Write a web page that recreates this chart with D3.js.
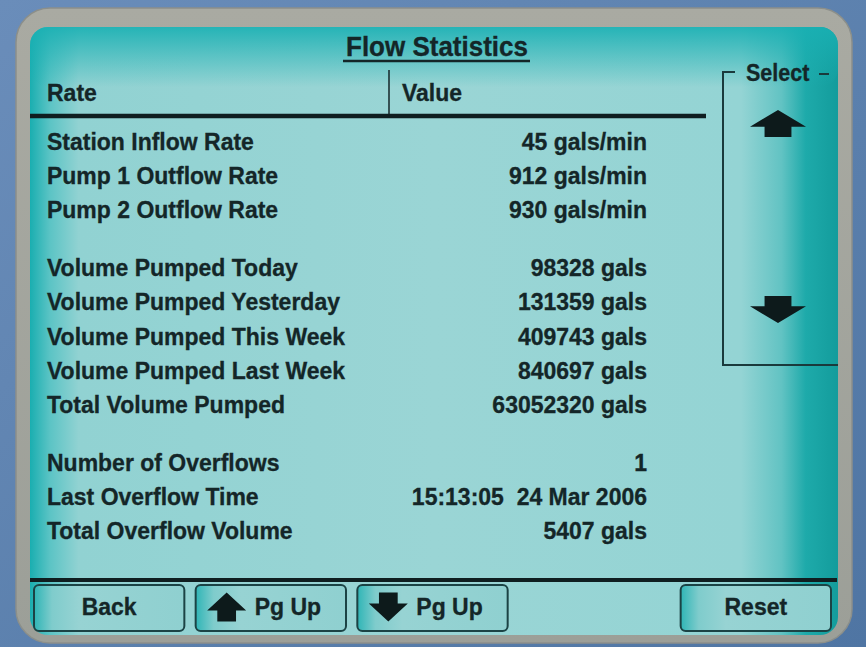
<!DOCTYPE html>
<html>
<head>
<meta charset="utf-8">
<script src="https://cdn.jsdelivr.net/npm/d3@7"></script>
<style>
  body { margin: 0; background: #5a7fac; }
  svg { display: block; }
  text { font-family: "Liberation Sans", Arial, sans-serif; font-weight: bold; fill: #142628;
         stroke: #142628; stroke-width: 0.3; }
</style>
</head>
<body>
<div id="vis"></div>
<script>
const WIDTH = 866;
const HEIGHT = 647;

// data
const title = 'Flow Statistics';
const headers = ['Rate', 'Value'];
const rateLabels = ['Station Inflow Rate', 'Pump 1 Outflow Rate', 'Pump 2 Outflow Rate'];
const rateValues = ['45 gals/min', '912 gals/min', '930 gals/min'];
const volumeLabels = ['Volume Pumped Today', 'Volume Pumped Yesterday', 'Volume Pumped This Week',
                      'Volume Pumped Last Week', 'Total Volume Pumped'];
const volumeValues = ['98328 gals', '131359 gals', '409743 gals', '840697 gals', '63052320 gals'];
const overflowLabels = ['Number of Overflows', 'Last Overflow Time', 'Total Overflow Volume'];
const overflowValues = ['1', '15:13:05  24 Mar 2006', '5407 gals'];
const buttonLabels = ['Back', 'Pg Up', 'Pg Up', '', 'Reset'];
const buttonArrows = ['', 'up', 'down', '', ''];

const GROUP_GAP = 0.7;
const STRETCH = 1.08; // LCD font is a bit taller than Liberation

const svg = d3.select('#vis').append('svg')
    .attr('width', WIDTH).attr('height', HEIGHT);

const defs = svg.append('defs');

// background
const bg = defs.append('linearGradient').attr('id', 'bg').attr('x1', 0).attr('y1', 0).attr('x2', 1).attr('y2', 1);
bg.append('stop').attr('offset', '0%').attr('stop-color', '#6a8dba');
bg.append('stop').attr('offset', '60%').attr('stop-color', '#5a7fac');
bg.append('stop').attr('offset', '100%').attr('stop-color', '#4f75a3');
svg.append('rect').attr('width', WIDTH).attr('height', HEIGHT).attr('fill', 'url(#bg)');

// bezel
const bez = defs.append('linearGradient').attr('id', 'bez').attr('x1', 0).attr('y1', 0).attr('x2', 0).attr('y2', 1);
bez.append('stop').attr('offset', '0%').attr('stop-color', '#a9aaa2');
bez.append('stop').attr('offset', '100%').attr('stop-color', '#9c9f98');
svg.append('rect').attr('x', 16).attr('y', 8).attr('width', 836).attr('height', 635)
    .attr('rx', 34).attr('fill', 'url(#bez)').attr('stroke', '#8c8f8a').attr('stroke-width', 1.5);

// screen
const scr = defs.append('linearGradient').attr('id', 'scr').attr('x1', 0).attr('y1', 0).attr('x2', 1).attr('y2', 0);
[['0%', '#1aaeb0'], ['2.5%', '#5cc4c5'], ['6%', '#91d2d2'], ['50%', '#9ad5d5'], ['88%', '#94d4d4'],
 ['93%', '#62c3c3'], ['96%', '#1eaaaa'], ['100%', '#139c9c']]
    .forEach(s => scr.append('stop').attr('offset', s[0]).attr('stop-color', s[1]));
svg.append('rect').attr('x', 30).attr('y', 27).attr('width', 808).attr('height', 608)
    .attr('rx', 18).attr('fill', 'url(#scr)');

const topShade = defs.append('linearGradient').attr('id', 'topShade').attr('x1', 0).attr('y1', 0).attr('x2', 0).attr('y2', 1);
topShade.append('stop').attr('offset', '0%').attr('stop-color', '#19b0b3').attr('stop-opacity', 0.9);
topShade.append('stop').attr('offset', '100%').attr('stop-color', '#19b0b3').attr('stop-opacity', 0);
svg.append('rect').attr('x', 30).attr('y', 27).attr('width', 808).attr('height', 60)
    .attr('rx', 18).attr('fill', 'url(#topShade)');

// text placed at (x, y) with a slight vertical stretch around the baseline
const place = (x, y) => `translate(${x},${y}) scale(1,${STRETCH})`;

// title
svg.append('text').attr('transform', place(437, 56)).attr('text-anchor', 'middle')
    .attr('font-size', 26).text(title);
svg.append('line').attr('x1', 343).attr('x2', 530).attr('y1', 61).attr('y2', 61)
    .attr('stroke', '#142628').attr('stroke-width', 2.5);

// table header
const colX = d3.scaleOrdinal().domain(headers).range([47, 402]);
svg.selectAll('text.hdr').data(headers).join('text').attr('class', 'hdr')
    .attr('transform', d => place(colX(d), 101)).attr('font-size', 23).text(d => d);
svg.append('line').attr('x1', 389).attr('x2', 389).attr('y1', 70).attr('y2', 115)
    .attr('stroke', '#142628').attr('stroke-width', 1.5);
svg.append('line').attr('x1', 30).attr('x2', 706).attr('y1', 116).attr('y2', 116)
    .attr('stroke', '#0f1e20').attr('stroke-width', 4.5);

// rows, grouped with a gap between groups
const groups = [[rateLabels, rateValues], [volumeLabels, volumeValues], [overflowLabels, overflowValues]];
const rows = [];
let slot = 0;
groups.forEach(g => {
    g[0].forEach((label, i) => rows.push({ label: label, value: g[1][i], slot: slot++ }));
    slot += GROUP_GAP;
});
const lastSlot = rows[rows.length - 1].slot;
const y = d3.scaleLinear().domain([0, lastSlot]).range([150, 539]);

const rowG = svg.append('g').attr('id', 'rows');
rowG.selectAll('text.lbl').data(rows).join('text').attr('class', 'lbl')
    .attr('transform', d => place(47, y(d.slot))).attr('font-size', 23).text(d => d.label);
rowG.selectAll('text.val').data(rows).join('text').attr('class', 'val')
    .attr('transform', d => place(647, y(d.slot))).attr('font-size', 23)
    .attr('text-anchor', 'end').style('white-space', 'pre').text(d => d.value);

// select bracket
const sel = svg.append('g').attr('id', 'select');
sel.append('path').attr('d', 'M735,72 H723 V365 H838')
    .attr('fill', 'none').attr('stroke', '#1a3a3c').attr('stroke-width', 2);
sel.append('text').attr('transform', place(746, 81)).attr('font-size', 21.5).text('Select');
sel.append('line').attr('x1', 819).attr('x2', 829).attr('y1', 74).attr('y2', 74)
    .attr('stroke', '#1a3a3c').attr('stroke-width', 2);

function arrowPath(cx, cy, w, h, dir) {
    // fat arrow: triangle head + rectangular stem
    const hw = w / 2, sw = w * 0.24, headH = h * 0.62;
    const s = dir === 'up' ? 1 : -1;
    const tip = cy - s * h / 2, base = tip + s * headH, end = cy + s * h / 2;
    return `M${cx},${tip} L${cx + hw},${base} L${cx + sw},${base} L${cx + sw},${end} ` +
           `L${cx - sw},${end} L${cx - sw},${base} L${cx - hw},${base} Z`;
}
sel.append('path').attr('d', arrowPath(778, 123.5, 56, 27, 'up')).attr('fill', '#0d1a1b');
sel.append('path').attr('d', arrowPath(778, 309.5, 56, 27, 'down')).attr('fill', '#0d1a1b');

// bottom bar + buttons
svg.append('line').attr('x1', 30).attr('x2', 837).attr('y1', 580).attr('y2', 580)
    .attr('stroke', '#0f1e20').attr('stroke-width', 4);

const btnFill = defs.append('linearGradient').attr('id', 'btn').attr('x1', 0).attr('y1', 0).attr('x2', 1).attr('y2', 0);
[['0%', '#2fb5b6'], ['12%', '#7fcccc'], ['30%', '#97d3d3'], ['100%', '#8fd0d0']]
    .forEach(s => btnFill.append('stop').attr('offset', s[0]).attr('stop-color', s[1]));

const bx = d3.scaleBand().domain(d3.range(buttonLabels.length)).range([34, 831]).paddingInner(0.07);
const buttons = buttonLabels.map((label, i) => ({ i: i, label: label, arrow: buttonArrows[i] }))
    .filter(d => d.label !== '');

const btnG = svg.append('g').attr('id', 'buttons').selectAll('g').data(buttons).join('g')
    .attr('transform', d => `translate(${bx(d.i)}, 585)`);
btnG.append('rect').attr('width', bx.bandwidth()).attr('height', 46).attr('rx', 5)
    .attr('fill', 'url(#btn)').attr('stroke', '#1b4345').attr('stroke-width', 2);
btnG.filter(d => d.arrow === '').append('text')
    .attr('transform', place(bx.bandwidth() / 2, 30)).attr('text-anchor', 'middle')
    .attr('font-size', 23).text(d => d.label);
btnG.filter(d => d.arrow !== '').append('path')
    .attr('d', d => arrowPath(31, 22, 39, 29, d.arrow)).attr('fill', '#0d1a1b');
btnG.filter(d => d.arrow !== '').append('text')
    .attr('transform', place(59, 30)).attr('font-size', 23).text(d => d.label);
</script>
</body>
</html>
